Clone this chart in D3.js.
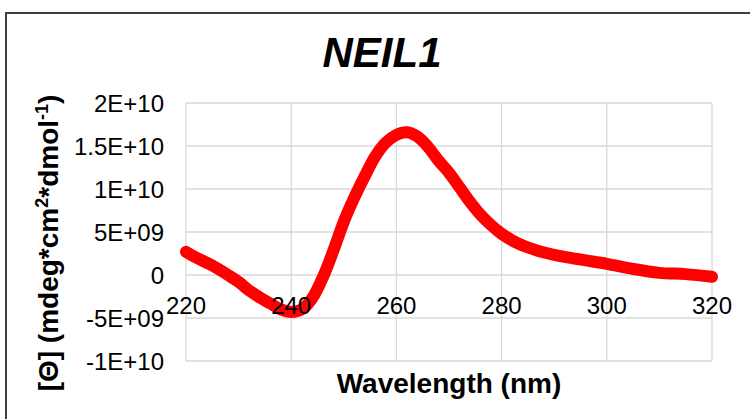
<!DOCTYPE html>
<html>
<head>
<meta charset="utf-8">
<script src="https://cdn.jsdelivr.net/npm/d3@7"></script>
<style>
  html, body { margin: 0; padding: 0; background: #fff; }
  svg { display: block; font-family: "Liberation Sans", Arial, sans-serif; }
</style>
</head>
<body>
<div id="chart"></div>
<script>
// CD-Spektrum NEIL1, Werte in 1E9 mdeg*cm2*dmol-1
const wavelengths = [220,222,225,228,230,232,234,236,238,240,242,244,246,248,250,252,254,256,258,260,262,264,266,268,270,272,274,276,278,280,283,287,292,296,300,305,310,315,320];
const theta = [2.7,2.0,1.1,0.0,-0.8,-1.8,-2.6,-3.3,-4.0,-4.3,-4.0,-2.7,-0.3,2.8,6.2,9.0,11.5,13.8,15.4,16.3,16.6,16.1,14.9,13.3,11.9,10.2,8.5,7.0,5.8,4.8,3.7,2.8,2.1,1.7,1.3,0.7,0.25,0.1,-0.2];
const xTicks = [220,240,260,280,300,320];
const yTicks = [2e10,1.5e10,1e10,5e9,0,-5e9,-1e10];
const yTickLabels = ["2E+10","1.5E+10","1E+10","5E+09","0","-5E+09","-1E+10"];

const W = 750, H = 419;
const plot = { left: 186, right: 712, top: 103, bottom: 361 };

const svg = d3.select("#chart").append("svg").attr("width", W).attr("height", H);

// Rahmen (rechts/unten abgeschnitten)
svg.append("rect").attr("x", 6).attr("y", 13).attr("width", W).attr("height", H)
  .attr("fill", "none").attr("stroke", "#404040").attr("stroke-width", 2);

const x = d3.scaleLinear().domain([220,320]).range([plot.left, plot.right]);
const y = d3.scaleLinear().domain([-1e10,2e10]).range([plot.bottom, plot.top]);

// Gitter
svg.append("g").selectAll("line").data(yTicks).join("line")
  .attr("x1", plot.left).attr("x2", plot.right)
  .attr("y1", d => y(d)).attr("y2", d => y(d))
  .attr("stroke", "#d9d9d9").attr("stroke-width", 1.3);
svg.append("g").selectAll("line").data(xTicks).join("line")
  .attr("x1", d => x(d)).attr("x2", d => x(d))
  .attr("y1", plot.top).attr("y2", plot.bottom)
  .attr("stroke", "#d9d9d9").attr("stroke-width", 1.3);

// Kurve
const line = d3.line().x((d,i) => x(wavelengths[i])).y(d => y(d * 1e9)).curve(d3.curveCatmullRom.alpha(0.5));
svg.append("path").datum(theta).attr("d", line)
  .attr("fill", "none").attr("stroke", "#ff0000").attr("stroke-width", 12)
  .attr("stroke-linecap", "round").attr("stroke-linejoin", "round");

// Y-Ticklabels
svg.append("g").selectAll("text").data(yTicks).join("text")
  .attr("x", 164).attr("y", d => y(d)).attr("dy", ".36em")
  .attr("text-anchor", "end").attr("font-size", 24).attr("fill", "#000")
  .text((d,i) => yTickLabels[i]);

// X-Ticklabels (an der Nulllinie, über der Kurve)
svg.append("g").selectAll("text").data(xTicks).join("text")
  .attr("x", d => x(d)).attr("y", y(0) + 39)
  .attr("text-anchor", "middle").attr("font-size", 24).attr("fill", "#000")
  .text(d => d);

// Titel
svg.append("text").attr("x", 382).attr("y", 67).attr("text-anchor", "middle")
  .attr("font-size", 42).attr("font-weight", "bold").attr("font-style", "italic").text("NEIL1");

// X-Achsentitel
svg.append("text").attr("x", 449).attr("y", 393).attr("text-anchor", "middle")
  .attr("font-size", 28).attr("font-weight", "bold").text("Wavelength (nm)");

// Y-Achsentitel
const yt = svg.append("text").attr("transform", "translate(58,243) rotate(-90)")
  .attr("text-anchor", "middle").attr("font-size", 28).attr("font-weight", "bold");
yt.append("tspan").text("[Θ] (mdeg*cm");
yt.append("tspan").attr("font-size", 18).attr("dy", -10).text("2");
yt.append("tspan").attr("dy", 10).text("*dmol");
yt.append("tspan").attr("font-size", 18).attr("dy", -10).text("-1");
yt.append("tspan").attr("dy", 10).text(")");
</script>
</body>
</html>
